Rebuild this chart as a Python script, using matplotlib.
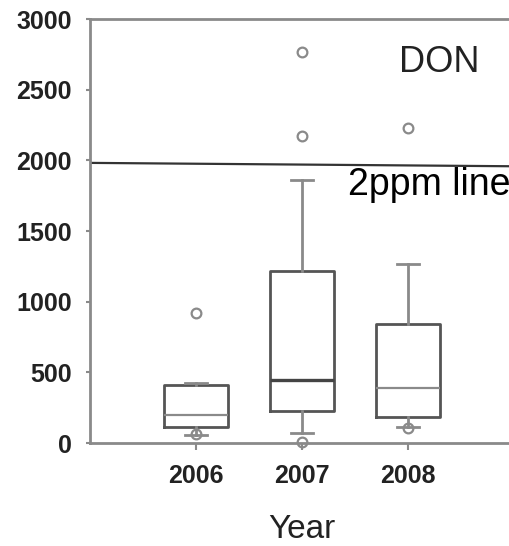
import matplotlib.pyplot as plt

# DON concentrations per year (box summary values, ppb)
years = ['2006', '2007', '2008']
q1 = [113, 224, 184]
medians = [196, 444, 390]
q3 = [409, 1218, 840]
whisker_low = [60, 71, 113]
whisker_high = [425, 1859, 1270]
outliers = [[918, 62], [2765, 2170, 10], [2227, 104]]

# hand-drawn 2 ppm reference line (ends, ppb)
limit_line = [1982, 1958]

plt.rcParams['font.family'] = ['Liberation Sans', 'DejaVu Sans']

fig = plt.figure(figsize=(5.10, 5.46), dpi=100)
ax = fig.add_axes([0.1765, 0.1886, 0.8314, 0.7766])

stats = []
for i, yr in enumerate(years):
    stats.append({
        'label': yr,
        'q1': q1[i], 'med': medians[i], 'q3': q3[i],
        'whislo': whisker_low[i], 'whishi': whisker_high[i],
        'fliers': outliers[i],
    })

pos = [1, 2, 3]
bp = ax.bxp(stats, positions=pos, widths=0.6, capwidths=0.21,
            boxprops=dict(color='#555555', linewidth=2),
            whiskerprops=dict(color='#8a8a8a', linewidth=2),
            capprops=dict(color='#8a8a8a', linewidth=2),
            medianprops=dict(color='#8a8a8a', linewidth=1.6),
            flierprops=dict(marker='o', markersize=7, markerfacecolor='none',
                            markeredgecolor='#8a8a8a', markeredgewidth=1.6))
bp['medians'][1].set_color('#444444')
bp['medians'][1].set_linewidth(2.4)
for f in bp['fliers']:
    f.set_clip_on(False)

ax.plot([0, 4], limit_line, color='#333333', linewidth=1.6)

ax.set_xlim(0, 4)
ax.set_ylim(0, 3000)
ax.set_yticks(range(0, 3001, 500))
ax.set_xticks(pos)
ax.set_xticklabels(years)

for s in ['top', 'left', 'bottom']:
    ax.spines[s].set_color('#8a8a8a')
    ax.spines[s].set_linewidth(2)
ax.spines['right'].set_visible(False)

ax.tick_params(axis='y', length=3, width=1.5, color='#8a8a8a', pad=10,
               labelsize=18, labelcolor='#222222')
ax.tick_params(axis='x', length=5, width=1.5, color='#8a8a8a', pad=10,
               labelsize=18, labelcolor='#222222')
for lbl in ax.get_xticklabels() + ax.get_yticklabels():
    lbl.set_fontweight('bold')

ax.text(3.29, 2625, 'DON', ha='center', va='baseline', fontsize=26,
        color='#222222')
ax.text(2.43, 1754, '2ppm line', ha='left', va='baseline', fontsize=27,
        color='black', clip_on=False)

fig.text(0.592, 0.014, 'Year', ha='center', va='baseline', fontsize=24,
         color='#222222')

fig.savefig('out.png', dpi=100)
